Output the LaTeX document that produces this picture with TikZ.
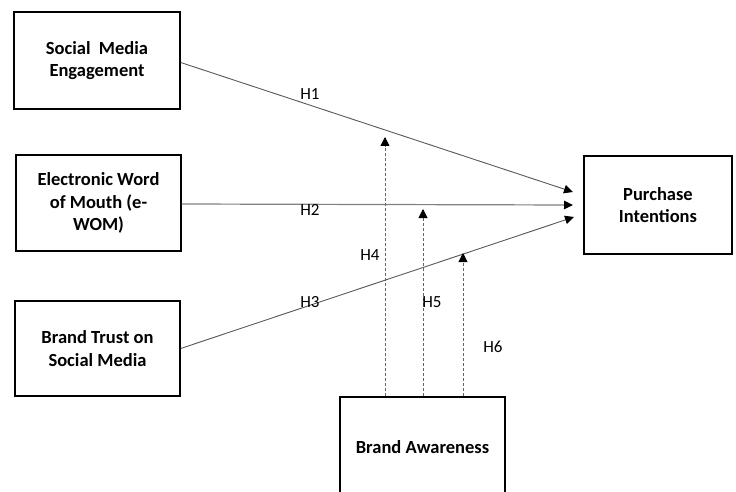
\documentclass[tikz,border=0pt]{standalone}
\usepackage{fontspec}
\setmainfont{Carlito}
\usetikzlibrary{arrows.meta}
\tikzset{
  box/.style={draw=black, line width=1.4pt, inner sep=0pt, align=center,
    font=\fontsize{18.5}{22.5}\selectfont\bfseries},
  link/.style={draw=black!65, line width=0.9pt, -{Triangle[length=9pt,width=8.5pt,black]}},
  modlink/.style={draw=black!60, line width=0.9pt, dash pattern=on 3pt off 2pt,
    -{Triangle[length=9pt,width=9pt,black]}},
  hlabel/.style={font=\fontsize{17}{20}\selectfont, inner sep=0pt}
}
\begin{document}
\begin{tikzpicture}[x=1pt,y=-1pt]
\clip (0,0) rectangle (736,492);
\fill[white] (0,0) rectangle (736,492);
% boxes
\node[box, minimum width=166pt, minimum height=97pt] (sme) at (97,60.5) {Social\ \ Media\\Engagement};
\node[box, minimum width=165pt, minimum height=96pt] (ewom) at (98.5,203) {Electronic Word\\of Mouth (e-\\WOM)};
\node[box, minimum width=165pt, minimum height=95pt] (bt) at (97.5,348.5) {Brand Trust on\\Social Media};
\node[box, minimum width=148pt, minimum height=98pt] (pi) at (658,205) {Purchase\\Intentions};
\node[box, minimum width=165pt, minimum height=100pt] (ba) at (422.5,447) {Brand Awareness};
% arrow end points
\coordinate (t1) at (573,192);
\coordinate (t2) at (573,205);
\coordinate (t3) at (574,217);
\coordinate (m4) at (385,137);
\coordinate (m5) at (423,209);
\coordinate (m6) at (463,253);
% direct paths
\draw[link] ([yshift=-2pt]sme.east) -- (t1);
\draw[link, line width=1.2pt, draw=black!50] ([yshift=-1pt]ewom.east) -- (t2);
\draw[link] (bt.east) -- (t3);
% moderating paths
\draw[modlink] (m4 |- ba.north) -- (m4);
\draw[modlink] (m5 |- ba.north) -- (m5);
\draw[modlink] (m6 |- ba.north) -- (m6);
% labels
\node[hlabel] (h1) at (310,94) {H1};
\node[hlabel] (h2) at (310,210) {H2};
\node[hlabel] (h3) at (310,302) {H3};
\node[hlabel] (h4) at (370,255) {H4};
\node[hlabel] (h5) at (432,302) {H5};
\node[hlabel] (h6) at (493,347) {H6};
\end{tikzpicture}
\end{document}
